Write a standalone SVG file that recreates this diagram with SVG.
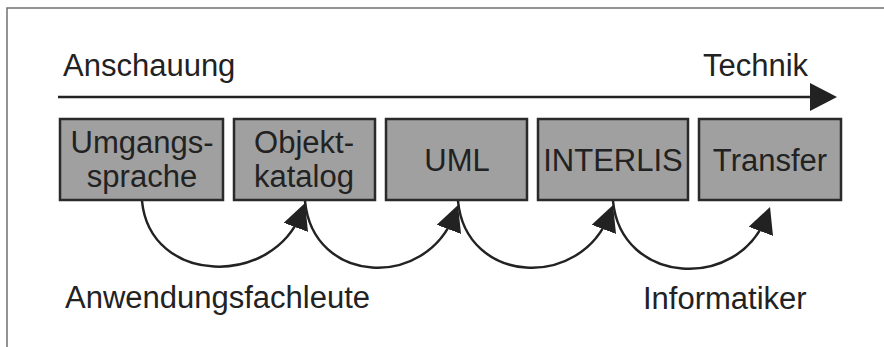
<svg xmlns="http://www.w3.org/2000/svg" width="884" height="347" viewBox="0 0 884 347">
<style>
text { font-family: "Liberation Sans", Arial, sans-serif; font-size: 31px; fill: #222; }
.box { fill: #a0a0a0; stroke: #2a2a2a; stroke-width: 2.5; }
.c { text-anchor: middle; }
.arc { fill: none; stroke: #222; stroke-width: 2.5; marker-end: url(#ah); }
</style>
<defs>
<marker id="ah" markerUnits="userSpaceOnUse" markerWidth="30" markerHeight="30" refX="16" refY="13" orient="auto">
<path d="M0,0 L26,13 L0,26 z" fill="#222"/>
</marker>
</defs>
<rect width="884" height="347" fill="#fff"/>
<g id="frame" stroke="#707070" stroke-width="1.5" fill="none">
<path d="M7,347 V8 H884"/>
</g>
<g id="axis">
<text x="63" y="76">Anschauung</text>
<text x="703" y="76">Technik</text>
<line x1="58" y1="97" x2="812" y2="97" stroke="#222" stroke-width="2.5"/>
<polygon points="810,83 837,97 810,111" fill="#222"/>
</g>
<g id="n1">
<rect class="box" x="60" y="119" width="163" height="81"/>
<text class="c" x="142" y="153">Umgangs-</text>
<text class="c" x="142" y="187">sprache</text>
</g>
<g id="n2">
<rect class="box" x="234" y="119" width="141" height="81"/>
<text class="c" x="304" y="153">Objekt-</text>
<text class="c" x="304" y="187">katalog</text>
</g>
<g id="n3">
<rect class="box" x="386" y="119" width="141" height="81"/>
<text class="c" x="457" y="171">UML</text>
</g>
<g id="n4">
<rect class="box" x="538" y="119" width="150" height="81"/>
<text class="c" x="613" y="171">INTERLIS</text>
</g>
<g id="n5">
<rect class="box" x="699" y="119" width="142" height="81"/>
<text class="c" x="770" y="171">Transfer</text>
</g>
<g id="connectors">
<path class="arc" d="M142,201 C150,285 273,288 301.5,212.4"/>
<path class="arc" d="M305,201 C313,285 426,290 454.5,214.4"/>
<path class="arc" d="M458,201 C466,285 581,290 609.5,214.4"/>
<path class="arc" d="M613,201 C621,285 738,292 766.5,216.4"/>
</g>
<g id="labels">
<text x="65" y="308">Anwendungsfachleute</text>
<text x="643" y="309">Informatiker</text>
</g>
</svg>
